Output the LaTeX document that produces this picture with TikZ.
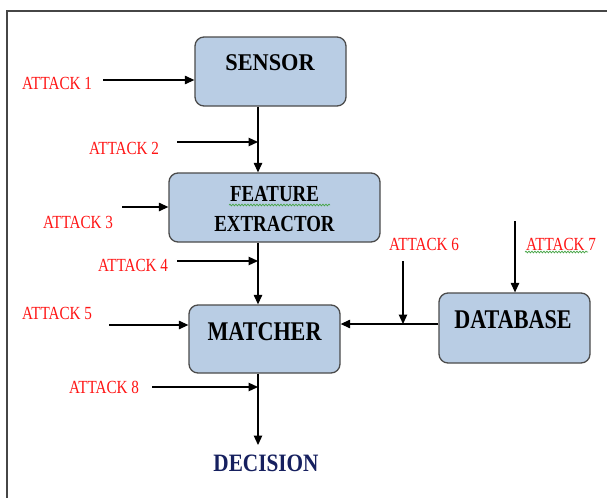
\documentclass[tikz,border=0pt]{standalone}
\usepackage{fontspec}
\setmainfont{Liberation Serif}
\usetikzlibrary{arrows.meta,decorations.pathmorphing}
\definecolor{boxfill}{RGB}{185,205,228}
\definecolor{boxdraw}{RGB}{75,75,75}
\definecolor{attred}{RGB}{255,20,20}
\definecolor{navy}{RGB}{22,32,95}
\definecolor{frame}{RGB}{70,70,70}
\definecolor{spell}{RGB}{70,165,70}
\newcommand{\attxt}[1]{\scalebox{0.82}[1]{#1}}
\tikzset{
  blk/.style={draw=boxdraw, fill=boxfill, line width=1.3pt, rounded corners=9pt, inner sep=0pt},
  blktxt/.style={inner sep=0pt, font=\bfseries},
  atk/.style={inner sep=0pt, text=attred, font=\fontsize{18.5}{20}\selectfont},
  conn/.style={line width=1.2pt, draw=black, -{Triangle[length=9.5pt,width=8.5pt]}},
  squig/.style={draw=spell, line width=0.7pt, decorate, decoration={snake, amplitude=0.9pt, segment length=3pt}}
}
\begin{document}
\begin{tikzpicture}[x=1pt,y=-1pt]
\useasboundingbox (0,0) rectangle (607,498);
\fill[white] (0,0) rectangle (607,498);
% frame
\draw[frame, line width=2pt] (607,11) -- (7,11) -- (7,498);

% boxes
\node[blk, minimum width=151pt, minimum height=69pt] (sensor) at (270.5,71.5) {};
\node[blk, minimum width=211pt, minimum height=69pt] (fe) at (274.5,207.5) {};
\node[blk, minimum width=151pt, minimum height=68pt] (matcher) at (264.5,339) {};
\node[blk, minimum width=151pt, minimum height=70pt] (db) at (514.5,328) {};

% box texts
\node[blktxt, font=\bfseries\fontsize{24}{25}\selectfont] (sensorT) at (270,63) {\scalebox{0.93}[1]{SENSOR}};
\node[blktxt, font=\bfseries\fontsize{23}{24}\selectfont] (feT1) at (274.5,194) {\attxt{FEATURE}};
\node[blktxt, font=\bfseries\fontsize{23}{24}\selectfont] (feT2) at (274.5,224) {\attxt{EXTRACTOR}};
\node[blktxt, font=\bfseries\fontsize{27}{28}\selectfont] (matcherT) at (264.5,332) {\attxt{MATCHER}};
\node[blktxt, font=\bfseries\fontsize{27}{28}\selectfont] (dbT) at (513,320) {\attxt{DATABASE}};
\node[blktxt, text=navy, font=\bfseries\fontsize{25}{27}\selectfont] (decision) at (266,463) {\scalebox{0.85}[1]{DECISION}};

% spell-check squiggles
\draw[squig] (229,205) -- (330,205);
\draw[squig] (525,252) -- (588,252);

% attack labels
\node[atk] (a1) at (57,83) {\attxt{ATTACK 1}};
\node[atk] (a2) at (124,148) {\attxt{ATTACK 2}};
\node[atk] (a3) at (78,222) {\attxt{ATTACK 3}};
\node[atk] (a4) at (133,265) {\attxt{ATTACK 4}};
\node[atk] (a5) at (57,313) {\attxt{ATTACK 5}};
\node[atk] (a6) at (424,244) {\attxt{ATTACK 6}};
\node[atk] (a7) at (561,244) {\attxt{ATTACK 7}};
\node[atk] (a8) at (104,387) {\attxt{ATTACK 8}};

% main flow
\draw[conn] (sensor.south -| 258,0) -- (fe.north -| 258,0);
\draw[conn] (fe.south -| 258,0) -- (matcher.north -| 258,0);
\coordinate (decTip) at (258,445);
\draw[conn] (matcher.south -| 258,0) -- (decTip);
\draw[conn] (db.west |- 0,324) -- (matcher.east |- 0,324);

% attack arrows
\coordinate (s1) at (103,80);
\coordinate (s2) at (177,142);
\coordinate (e2) at (258,142);
\coordinate (s3) at (122,207);
\coordinate (s4) at (177,261);
\coordinate (e4) at (258,261);
\coordinate (s5) at (109,325);
\coordinate (s6) at (403,261);
\coordinate (e6) at (403,324);
\coordinate (s7) at (515,221);
\coordinate (s8) at (152,387);
\coordinate (e8) at (258,387);
\draw[conn] (s1) -- (sensor.west |- s1);
\draw[conn] (s2) -- (e2);
\draw[conn] (s3) -- (fe.west |- s3);
\draw[conn] (s4) -- (e4);
\draw[conn] (s5) -- (matcher.west |- s5);
\draw[conn] (s6) -- (e6);
\draw[conn] (s7) -- (db.north -| s7);
\draw[conn] (s8) -- (e8);
\end{tikzpicture}
\end{document}
